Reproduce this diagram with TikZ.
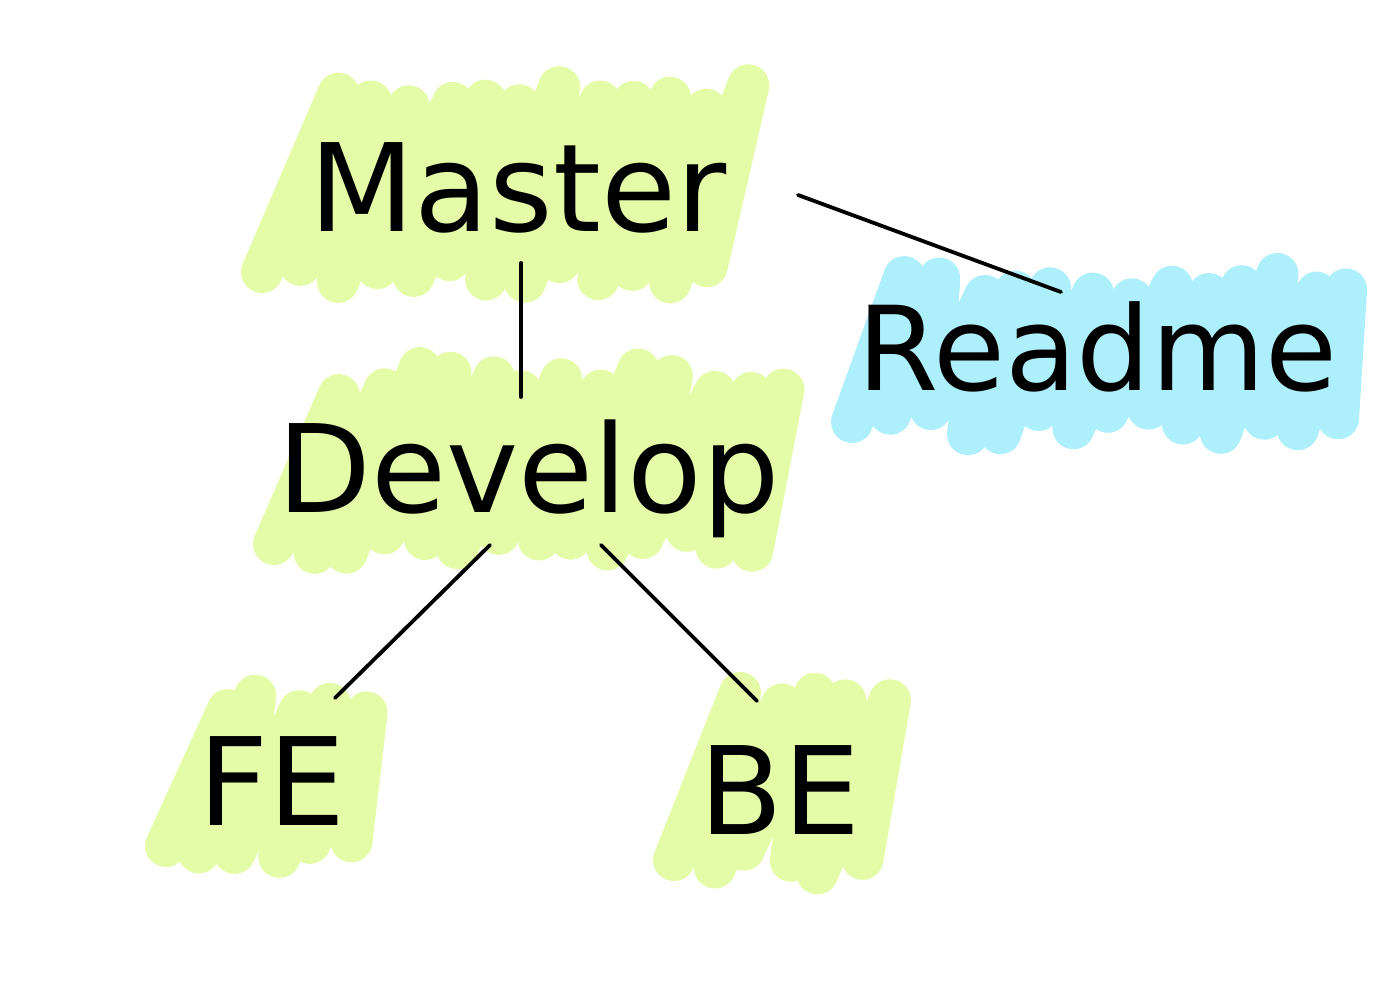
\documentclass[tikz,border=0pt]{standalone}
\usepackage[svgnames]{xcolor}
\usepackage{fontspec}
\setmainfont{DejaVu Sans}
\usepackage{tikz}
\colorlet{branchFill}{rgb,255:red,228;green,252;blue,167}
\colorlet{docFill}{rgb,255:red,173;green,240;blue,252}
\colorlet{branchLine}{black}

\newcommand\scribble[6]{%
  \draw[every scribble,draw=#1] (#2,#4)
    \foreach \k in {0,...,#6}
    {
      -- ({#2+37*\k+#5+6*rand},{#3+14*rand}) -- ({#2+37*\k+37+6*rand},{#4+14*rand})
    };
}

\begin{document}
\begin{tikzpicture}[
  x=1pt,y=-1pt,
  every scribble/.style={
    line width=42pt,
    line cap=round,
    line join=round,
  },
  every branch/.style={
    inner sep=0pt,
    text height=89pt,
    text depth=0pt,
    font=\fontsize{122}{130}\selectfont,
  },
  every doc/.style={
    every branch/.try,
    text height=85pt,
    font=\fontsize{117}{124}\selectfont,
  },
  every link/.style={
    draw=branchLine,
    line width=3.8pt,
    line cap=round,
  }
]
\useasboundingbox (0,0) rectangle (1398,1000);
\pgfmathsetseed{11}
\scribble{branchFill}{262}{98}{272}{74}{11}
\scribble{docFill}{852}{288}{422}{56}{12}
\scribble{branchFill}{274}{382}{544}{68}{12}
\scribble{branchFill}{166}{703}{846}{58}{4}
\scribble{branchFill}{674}{700}{860}{66}{4}

\node[every branch/.try] (master) at (518,187.5) {Master};
\node[every doc/.try] (readme) at (1097,347.5) {Readme};
\node[every branch/.try] (develop) at (528.5,468) {Develop};
\node[every branch/.try] (fe) at (272,781) {FE};
\node[every branch/.try] (be) at (780,789.5) {BE};

\draw[every link/.try] ([shift={(3,75.5)}]master.center) -- ([shift={(-7.5,-71)}]develop.center);
\draw[every link/.try] ([shift={(280,7.5)}]master.center) -- ([shift={(-36,-55.5)}]readme.center);
\draw[every link/.try] ([shift={(-38.5,77)}]develop.center) -- ([shift={(63,-83)}]fe.center);
\draw[every link/.try] ([shift={(72.5,77)}]develop.center) -- ([shift={(-23,-88.5)}]be.center);
\end{tikzpicture}
\end{document}
